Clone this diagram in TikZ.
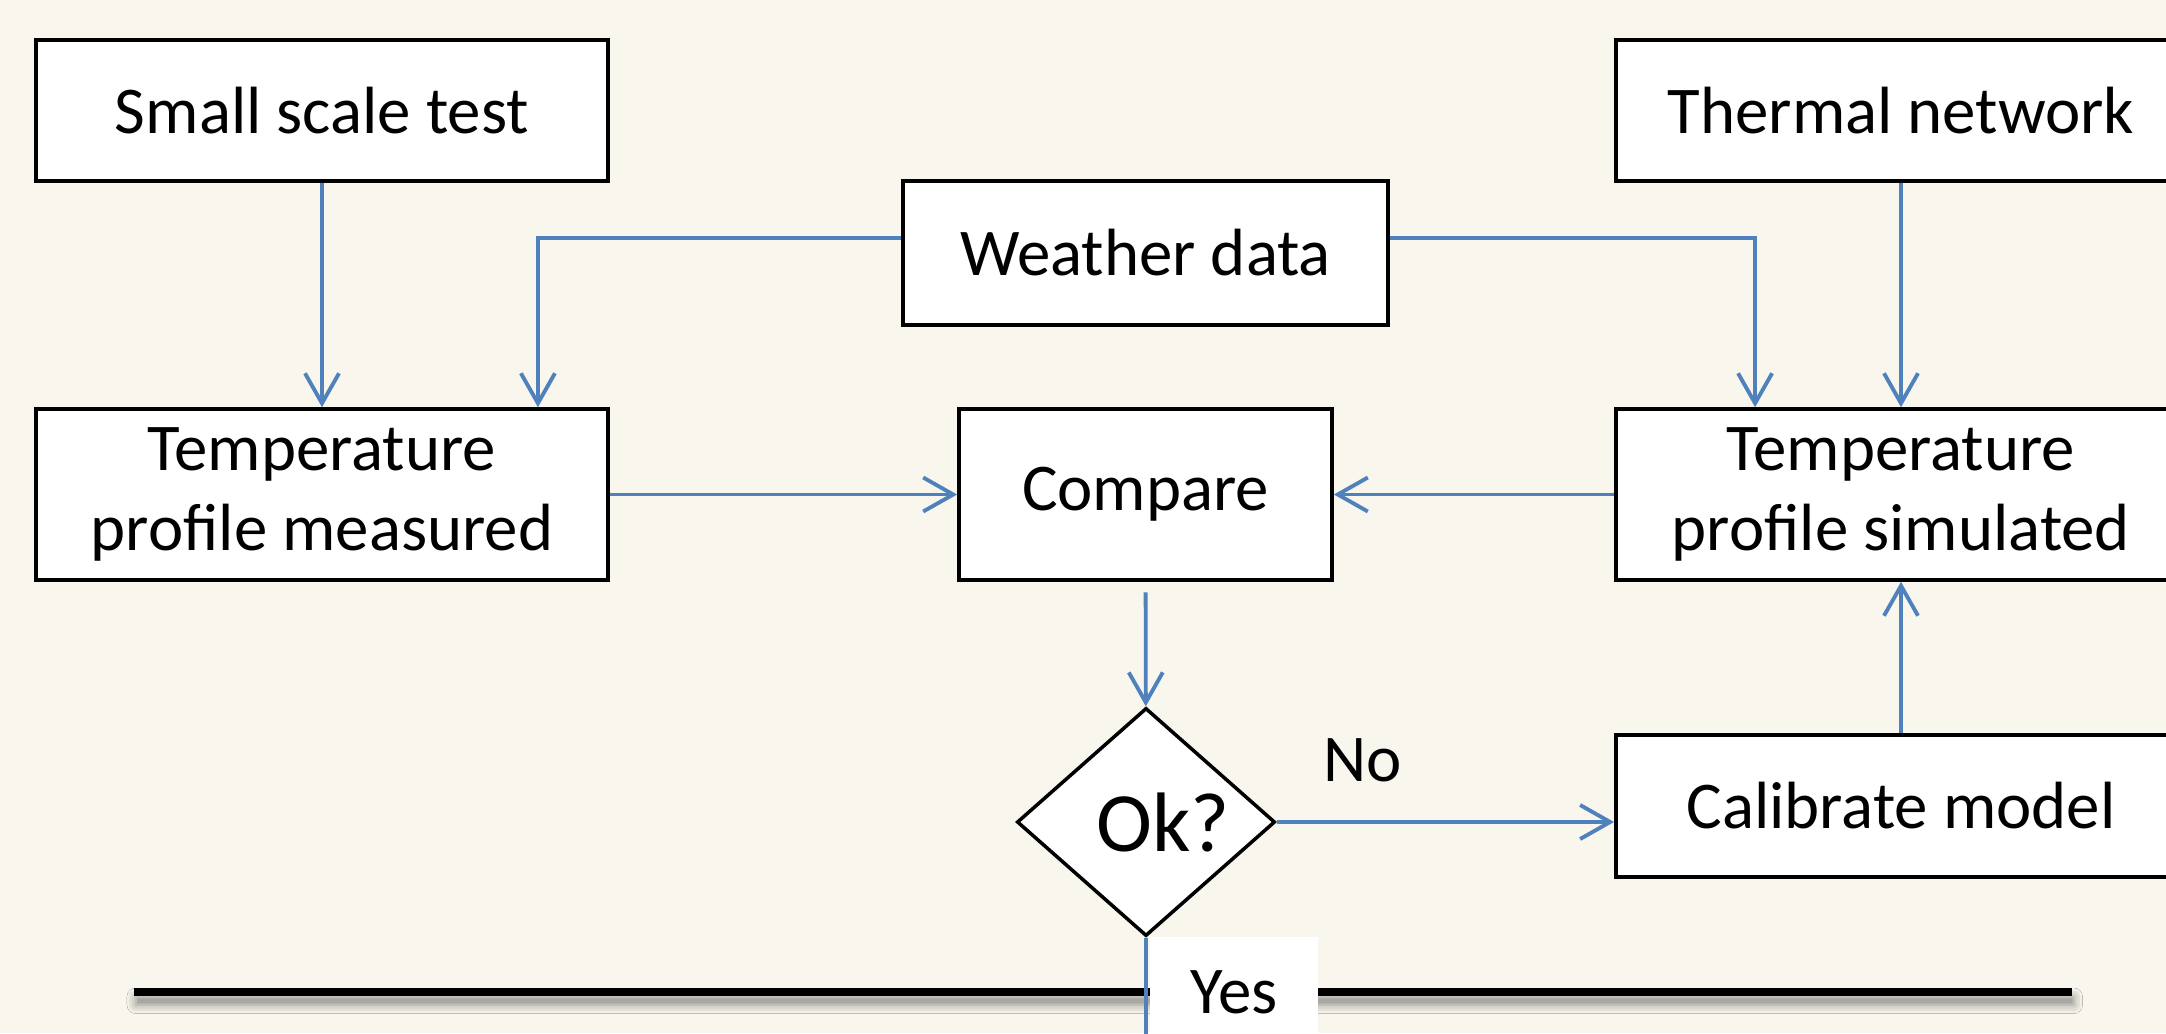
\documentclass[tikz,border=0pt]{standalone}
\usepackage{fontspec}
\setmainfont{Carlito}
\usetikzlibrary{arrows.meta,shapes.geometric,calc,shadows.blur}
\definecolor{paper}{RGB}{249,246,238}
\definecolor{linkblue}{RGB}{79,129,189}

\begin{document}
\begin{tikzpicture}[x=0.01cm,y=-0.01cm,
  box/.style={draw=black,line width=1pt,fill=white,inner sep=0pt,align=center,font=\fontsize{19}{22.5}\selectfont},
  link/.style={linkblue,line width=1.1pt,-{Straight Barb[length=3mm,width=3.4mm]}},
  label/.style={inner sep=0pt,font=\fontsize{19}{22.5}\selectfont}]

\useasboundingbox (0,0) rectangle (2166,1033);

\begin{scope}

\clip (0,0) rectangle (2166,1033);

\fill [paper] (0,0) rectangle (2166,1033);

\node [box,minimum width=5.72cm,minimum height=1.41cm] (small) at (322,110.5) {Small scale test};
\node [box,minimum width=5.70cm,minimum height=1.41cm] (thermal) at (1901,110.5) {Thermal network};
\node [box,minimum width=4.85cm,minimum height=1.44cm] (weather) at (1145.5,253) {Weather data};

\node [box,minimum width=5.72cm,minimum height=1.71cm] (measured) at (322,494.5) {Temperature\\profile measured};
\node [box,minimum width=3.73cm,minimum height=1.71cm] (compare) at (1145.5,494.5) {Compare};
\node [box,minimum width=5.70cm,minimum height=1.71cm] (simulated) at (1901,494.5) {Temperature\\profile simulated};

\node [box,diamond,minimum width=2.58cm,minimum height=2.28cm,font=\fontsize{24}{29}\selectfont] (ok) at (1146,822) {\hspace*{0.34cm}Ok?};
\node [box,minimum width=5.70cm,minimum height=1.42cm] (calibrate) at (1901,806) {Calibrate model};

\node [label] (no) at (1363,760) {No};

% inputs
\draw [link] (small) -- (measured);
\draw [link] ($(weather.west)+(0,-15)$) -| ($(measured.north east)+(-72,0)$);
\draw [link] ($(weather.east)+(0,-15)$) -| ($(simulated.north west)+(141,0)$);
\draw [link] (thermal) -- (simulated);

\draw [link] (measured) -- (compare);
\draw [link] (simulated) -- (compare);
\draw [link,shorten <=3pt] (compare) -- (ok);

% loop
\draw [link] (ok.east) -- (ok.east -| calibrate.west);
\draw [link] (calibrate) -- (simulated);

\fill [black,blur shadow={shadow xshift=0.5pt,shadow yshift=-2.5pt,shadow blur radius=2.5pt,shadow opacity=45}] (134,988) rectangle (2072,996);

\node [label,fill=white,minimum width=1.68cm,minimum height=1.1cm] (yes) at (1234,992) {Yes};

\coordinate (exit) at (1146,1045);
\draw [linkblue,line width=1.1pt] (ok.south) -- (exit);

\end{scope}

\end{tikzpicture}
\end{document}
